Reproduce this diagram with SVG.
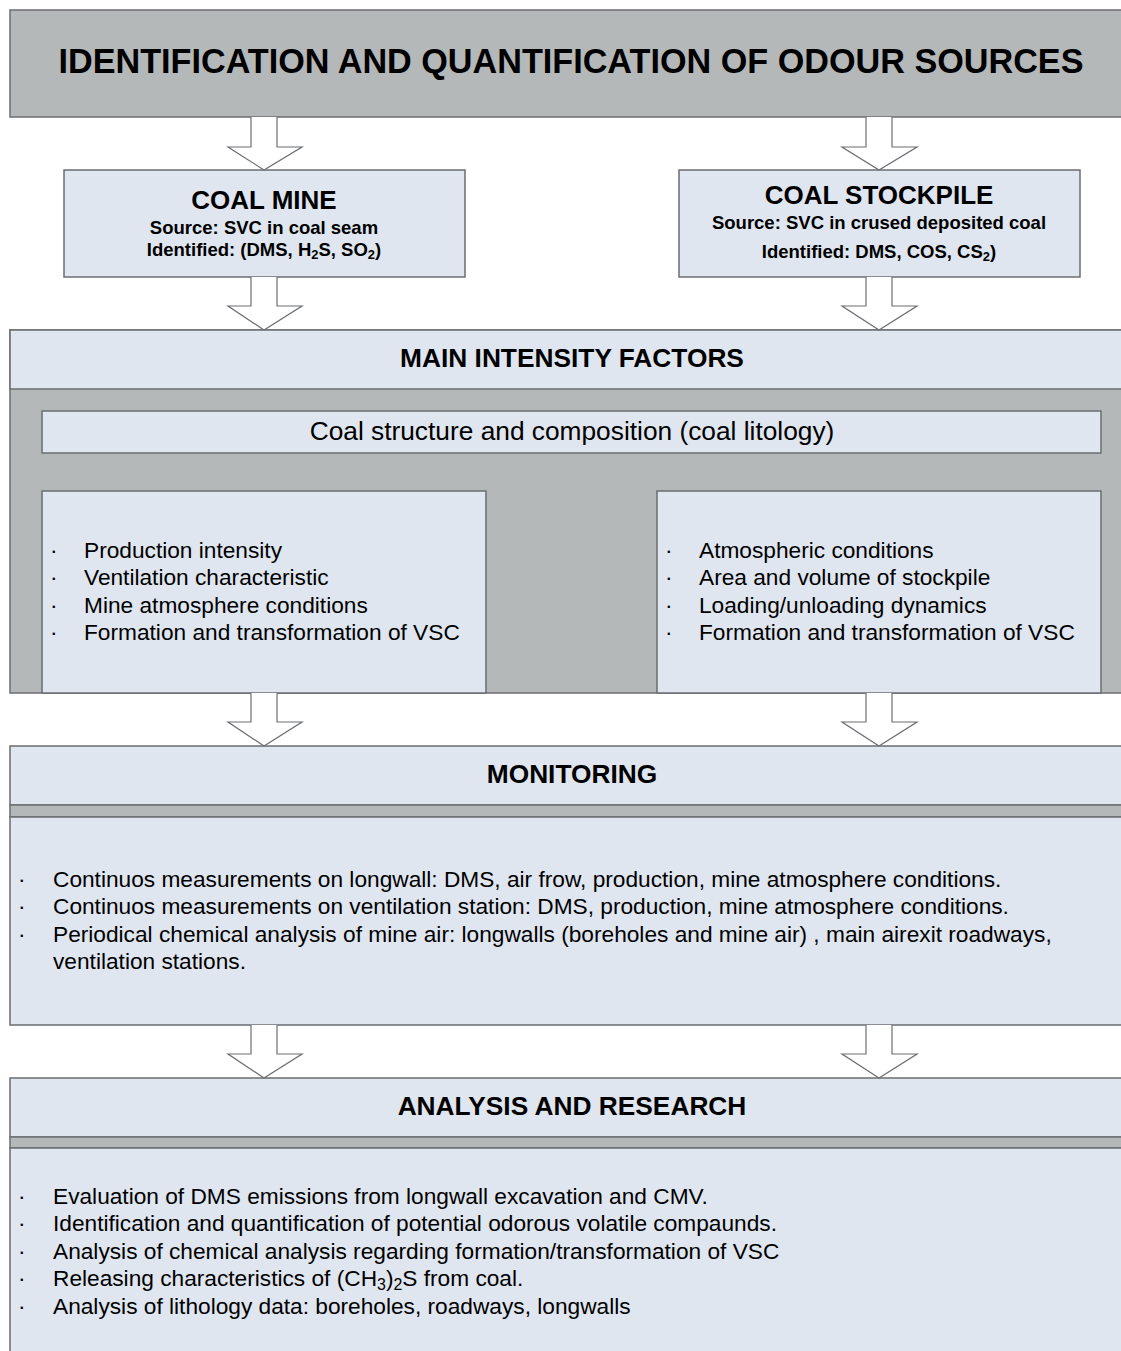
<svg xmlns="http://www.w3.org/2000/svg" width="1121" height="1351" viewBox="0 0 1121 1351">
<style>
.gray{fill:#b5b8b9;stroke:#6b6e72;stroke-width:1.5}
.light{fill:#dfe6ef;stroke:#6b6e72;stroke-width:1.5}
.arrow{fill:#ffffff;stroke:#6b6e72;stroke-width:1.2}
text{font-family:"Liberation Sans",Arial,sans-serif;fill:#000}
.b{font-weight:bold}
.c{text-anchor:middle}
.h{font-size:26.3px}
.bul{font-size:22.7px}
.sub{font-size:0.7em}
</style>
<rect x="0" y="0" width="1121" height="1351" fill="#ffffff"/>

<g id="title">
<rect class="gray" x="10" y="10" width="1125" height="107"/>
<text class="b c" x="571" y="73" font-size="34.2">IDENTIFICATION AND QUANTIFICATION OF ODOUR SOURCES</text>
</g>

<g id="coal-mine">
<rect class="light" x="64" y="170" width="401" height="107"/>
<text class="b c" x="264" y="209" font-size="26">COAL MINE</text>
<text class="b c" x="264" y="234" font-size="18.5">Source: SVC in coal seam</text>
<text class="b c" x="264" y="256" font-size="18.5">Identified: (DMS, H<tspan class="sub" dy="3">2</tspan><tspan dy="-3">S, SO</tspan><tspan class="sub" dy="3">2</tspan><tspan dy="-3">)</tspan></text>
</g>

<g id="coal-stockpile">
<rect class="light" x="679" y="170" width="401" height="107"/>
<text class="b c" x="879" y="204" font-size="26">COAL STOCKPILE</text>
<text class="b c" x="879" y="229" font-size="18.5">Source: SVC in crused deposited coal</text>
<text class="b c" x="879" y="258" font-size="18.5">Identified: DMS, COS, CS<tspan class="sub" dy="3">2</tspan><tspan dy="-3">)</tspan></text>
</g>

<g id="main-intensity-factors">
<rect class="gray" x="10" y="330" width="1125" height="363"/>
<rect class="light" x="10" y="330" width="1125" height="59"/>
<text class="b c h" x="572" y="367">MAIN INTENSITY FACTORS</text>
</g>

<g id="coal-structure">
<rect class="light" x="42" y="411" width="1059" height="42"/>
<text class="c" x="572" y="440" font-size="26.3">Coal structure and composition (coal litology)</text>
</g>

<g id="mine-factors">
<rect class="light" x="42" y="491" width="444" height="202"/>
<text class="bul" x="50" y="558">·</text><text class="bul" x="84" y="558">Production intensity</text>
<text class="bul" x="50" y="585">·</text><text class="bul" x="84" y="585">Ventilation characteristic</text>
<text class="bul" x="50" y="613">·</text><text class="bul" x="84" y="613">Mine atmosphere conditions</text>
<text class="bul" x="50" y="640">·</text><text class="bul" x="84" y="640">Formation and transformation of VSC</text>
</g>

<g id="stockpile-factors">
<rect class="light" x="657" y="491" width="444" height="202"/>
<text class="bul" x="665" y="558">·</text><text class="bul" x="699" y="558">Atmospheric conditions</text>
<text class="bul" x="665" y="585">·</text><text class="bul" x="699" y="585">Area and volume of stockpile</text>
<text class="bul" x="665" y="613">·</text><text class="bul" x="699" y="613">Loading/unloading dynamics</text>
<text class="bul" x="665" y="640">·</text><text class="bul" x="699" y="640">Formation and transformation of VSC</text>
</g>

<g id="monitoring">
<rect class="light" x="10" y="746" width="1125" height="59"/>
<rect class="gray" x="10" y="805" width="1125" height="12"/>
<rect class="light" x="10" y="817" width="1125" height="208"/>
<text class="b c h" x="572" y="783">MONITORING</text>
<text class="bul" x="18" y="887">·</text><text class="bul" x="53" y="887">Continuos measurements on longwall: DMS, air frow, production, mine atmosphere conditions.</text>
<text class="bul" x="18" y="914">·</text><text class="bul" x="53" y="914">Continuos measurements on ventilation station: DMS, production, mine atmosphere conditions.</text>
<text class="bul" x="18" y="942">·</text><text class="bul" x="53" y="942">Periodical chemical analysis of mine air: longwalls (boreholes and mine air) , main airexit roadways,</text>
<text class="bul" x="53" y="969">ventilation stations.</text>
</g>

<g id="analysis-and-research">
<rect class="light" x="10" y="1078" width="1125" height="59"/>
<rect class="gray" x="10" y="1137" width="1125" height="11"/>
<rect class="light" x="10" y="1148" width="1125" height="210"/>
<text class="b c h" x="572" y="1115">ANALYSIS AND RESEARCH</text>
<text class="bul" x="18" y="1204">·</text><text class="bul" x="53" y="1204">Evaluation of DMS emissions from longwall excavation and CMV.</text>
<text class="bul" x="18" y="1231">·</text><text class="bul" x="53" y="1231">Identification and quantification of potential odorous volatile compaunds.</text>
<text class="bul" x="18" y="1259">·</text><text class="bul" x="53" y="1259">Analysis of chemical analysis regarding formation/transformation of VSC</text>
<text class="bul" x="18" y="1286">·</text><text class="bul" x="53" y="1286">Releasing characteristics of (CH<tspan class="sub" dy="4">3</tspan><tspan dy="-4">)</tspan><tspan class="sub" dy="4">2</tspan><tspan dy="-4">S from coal.</tspan></text>
<text class="bul" x="18" y="1314">·</text><text class="bul" x="53" y="1314">Analysis of lithology data: boreholes, roadways, longwalls</text>
</g>

<g id="connectors">
<path class="arrow" d="M251,117 V147 H228 L264,170 L302,147 H277 V117"/>
<path class="arrow" d="M866,117 V147 H842 L879,170 L917,147 H892 V117"/>
<path class="arrow" d="M251,277 V306 H228 L264,330 L302,306 H277 V277"/>
<path class="arrow" d="M866,277 V306 H842 L879,330 L917,306 H892 V277"/>
<path class="arrow" d="M251,693 V722 H228 L264,746 L302,722 H277 V693"/>
<path class="arrow" d="M866,693 V722 H842 L879,746 L917,722 H892 V693"/>
<path class="arrow" d="M251,1025 V1054 H228 L264,1078 L302,1054 H277 V1025"/>
<path class="arrow" d="M866,1025 V1054 H842 L879,1078 L917,1054 H892 V1025"/>
</g>
</svg>
